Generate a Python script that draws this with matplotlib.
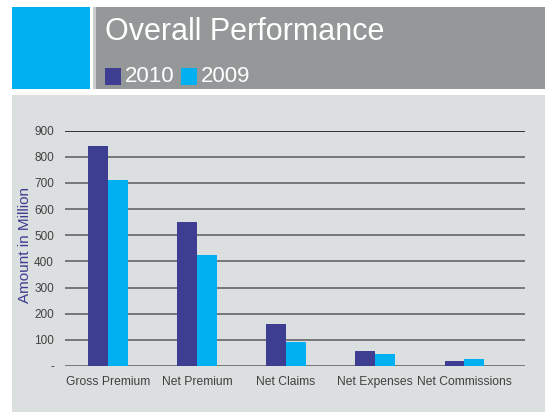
import matplotlib
matplotlib.use("Agg")
import matplotlib.pyplot as plt
import numpy as np
from matplotlib.patches import Rectangle

plt.rcParams['font.family'] = ['Liberation Sans', 'DejaVu Sans']

categories = ["Gross Premium", "Net Premium", "Net Claims", "Net Expenses", "Net Commissions"]
values_2010 = [840, 550, 160, 58, 18]
values_2009 = [710, 425, 90, 44, 25]
series_names = ["2010", "2009"]
yticks = [0, 100, 200, 300, 400, 500, 600, 700, 800, 900]
ytick_labels = ["-"] + [str(v) for v in yticks[1:]]

navy = "#3d3d91"
cyan = "#00b0f0"
W, H = 545, 412

fig = plt.figure(figsize=(5.45, 4.12), dpi=100, facecolor="white")

def box(x, y, w, h, color):
    # pixel box, y measured from top
    fig.add_artist(Rectangle((x / W, 1 - (y + h) / H), w / W, h / H,
                             transform=fig.transFigure, facecolor=color,
                             edgecolor="none", zorder=0))

# header blocks and chart panel
box(12, 7, 78, 82, cyan)
box(93, 7, 3, 82, "#c9cbcc")
box(96, 7, 449, 82, "#959899")
box(12, 95, 533, 317, "#dcdfe0")

fig.text(105 / W, 1 - 32 / H, "Overall Performance", color="white",
         fontsize=22, va="center", ha="left")
fig.add_artist(Rectangle((105 / W, 1 - 85 / H), 16 / W, 17 / H,
                         transform=fig.transFigure, facecolor=navy, edgecolor="none"))
fig.text(125 / W, 1 - 76.5 / H, series_names[0], color="white", fontsize=16,
         va="center", ha="left")
fig.add_artist(Rectangle((181 / W, 1 - 85 / H), 16 / W, 17 / H,
                         transform=fig.transFigure, facecolor=cyan, edgecolor="none"))
fig.text(201 / W, 1 - 76.5 / H, series_names[1], color="white", fontsize=16,
         va="center", ha="left")

ax = fig.add_axes([65 / W, 1 - 366 / H, 460 / W, 235.3 / H])
ax.set_facecolor("none")

x = np.arange(len(categories))
bw = 0.223
ax.bar(x, values_2010, width=bw, align="edge", color=navy, zorder=3, label=series_names[0])
ax.bar(x + bw, values_2009, width=bw, align="edge", color=cyan, zorder=3, label=series_names[1])

ax.set_xlim(-0.48 + bw, 4.68 + bw)
ax.set_xticks(x + bw)
ax.set_xticklabels(categories, fontsize=8.7, color="#404040")
ax.set_ylim(0, 900)
ax.set_yticks(yticks)
ax.set_yticklabels(ytick_labels, fontsize=8.5, color="#404040")
ax.tick_params(length=0)
ax.tick_params(axis="y", pad=8)
ax.tick_params(axis="x", pad=7)

for v in yticks:
    ax.axhline(v, color="#303030" if v == 900 else "#777777",
               lw=1.4, zorder=1)

for s in ax.spines.values():
    s.set_visible(False)

ax.set_ylabel("Amount in Million", color=navy, fontsize=11)
ax.yaxis.set_label_coords(-33 / 460, 0.5 + 3 / 235.3)

fig.savefig("out.png", dpi=100, facecolor="white")
